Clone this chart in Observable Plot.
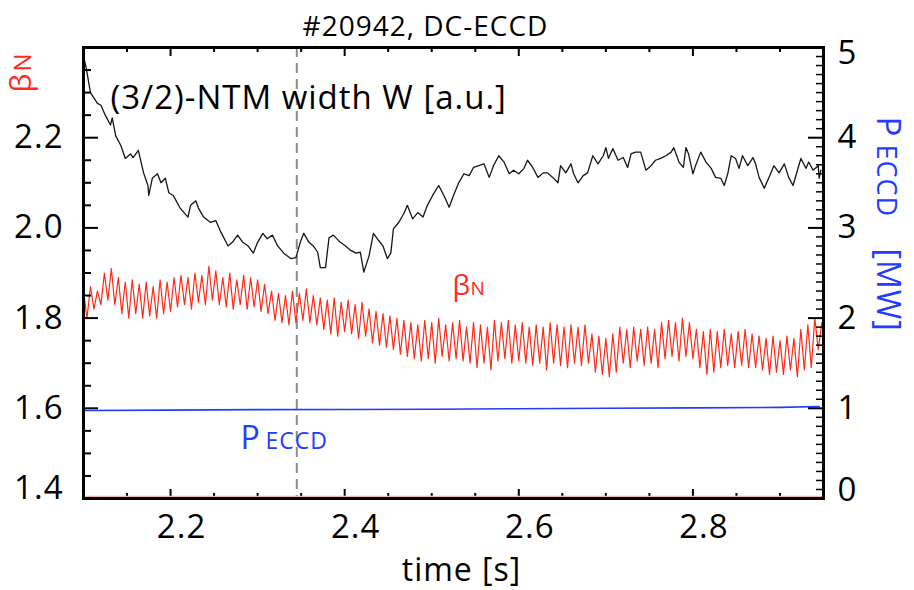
<!DOCTYPE html>
<html><head><meta charset="utf-8">
<script src="https://cdn.jsdelivr.net/npm/d3@7"></script>
<script src="https://cdn.jsdelivr.net/npm/@observablehq/plot@0.6"></script>
<style>body{margin:0;background:#fff;} svg{display:block}</style>
</head><body><div id="chart"></div>
<script>
// ---------- data ----------
const title = "#20942, DC-ECCD";
const ntmLabel = "(3/2)-NTM width W [a.u.]";
const xLabel = "time [s]";
const timeDomain = [2.1, 2.95];
const betaDomain = [1.4, 2.4];
const xTickLabels = [2.2, 2.4, 2.6, 2.8];
const leftTickLabels = [1.4, 1.6, 1.8, 2.0, 2.2];
const rightTickLabels = [0, 1, 2, 3, 4, 5];
const markerTime = 2.345;

// (3/2)-NTM island width W, a.u. (read on right-axis scale)
const wTime = [2.100,2.103,2.108,2.116,2.120,2.125,2.131,2.133,2.137,2.143,2.148,2.154,2.157,2.163,2.169,2.174,2.175,2.179,2.185,2.189,2.194,2.198,2.203,2.211,2.220,2.223,2.229,2.232,2.238,2.246,2.252,2.257,2.266,2.271,2.277,2.283,2.289,2.295,2.300,2.306,2.311,2.317,2.323,2.330,2.338,2.344,2.349,2.353,2.359,2.364,2.369,2.372,2.378,2.382,2.387,2.395,2.401,2.407,2.413,2.418,2.422,2.428,2.433,2.439,2.444,2.449,2.453,2.456,2.462,2.468,2.472,2.478,2.484,2.490,2.495,2.501,2.508,2.514,2.520,2.525,2.531,2.537,2.543,2.548,2.554,2.560,2.566,2.571,2.577,2.583,2.589,2.594,2.600,2.606,2.610,2.616,2.622,2.628,2.633,2.639,2.645,2.648,2.654,2.660,2.663,2.668,2.674,2.679,2.685,2.691,2.697,2.700,2.703,2.708,2.714,2.720,2.725,2.729,2.734,2.740,2.746,2.752,2.757,2.763,2.769,2.775,2.778,2.784,2.789,2.792,2.795,2.800,2.803,2.809,2.815,2.821,2.826,2.832,2.836,2.840,2.844,2.849,2.853,2.857,2.863,2.869,2.872,2.876,2.882,2.887,2.893,2.899,2.905,2.910,2.915,2.921,2.924,2.930,2.933,2.938,2.944,2.945,2.947];
const wValue = [4.90,4.78,4.50,4.38,4.36,4.25,4.14,4.22,4.02,3.91,3.77,3.82,3.78,3.86,3.61,3.47,3.36,3.55,3.60,3.50,3.55,3.39,3.36,3.22,3.12,3.25,3.30,3.22,3.12,3.06,3.08,2.97,2.80,2.84,2.92,2.84,2.80,2.72,2.84,2.94,2.88,2.92,2.80,2.72,2.66,2.67,2.84,2.94,2.84,2.80,2.73,2.56,2.56,2.89,2.92,2.84,2.80,2.75,2.72,2.73,2.51,2.69,2.94,2.86,2.80,2.66,2.72,2.99,3.06,3.16,3.25,3.10,3.17,3.12,3.25,3.36,3.47,3.36,3.23,3.36,3.50,3.60,3.58,3.67,3.69,3.71,3.56,3.69,3.80,3.73,3.60,3.64,3.60,3.66,3.75,3.67,3.56,3.61,3.61,3.56,3.50,3.69,3.61,3.71,3.60,3.50,3.58,3.61,3.80,3.71,3.80,3.89,3.77,3.88,3.75,3.78,3.67,3.82,3.84,3.84,3.64,3.69,3.75,3.77,3.80,3.84,3.89,3.73,3.67,3.89,3.82,3.60,3.69,3.84,3.73,3.66,3.56,3.55,3.47,3.60,3.80,3.77,3.66,3.80,3.69,3.78,3.71,3.56,3.44,3.55,3.69,3.61,3.71,3.56,3.47,3.67,3.77,3.66,3.73,3.64,3.69,3.55,3.64];

// normalised beta (left axis), sawtooth-modulated
const betaTime = [
2.100,2.104,2.108,2.112,2.116,2.120,2.124,2.128,2.132,2.136,
2.140,2.144,2.148,2.152,2.156,2.160,2.164,2.168,2.172,2.176,
2.180,2.184,2.188,2.192,2.196,2.200,2.204,2.208,2.212,2.216,
2.220,2.224,2.228,2.232,2.236,2.240,2.244,2.248,2.252,2.256,
2.260,2.264,2.268,2.272,2.276,2.280,2.284,2.288,2.292,2.296,
2.300,2.304,2.308,2.312,2.316,2.320,2.324,2.328,2.332,2.336,
2.340,2.344,2.348,2.352,2.356,2.360,2.364,2.368,2.372,2.376,
2.380,2.384,2.388,2.392,2.396,2.400,2.404,2.408,2.412,2.416,
2.420,2.424,2.428,2.432,2.436,2.440,2.444,2.448,2.452,2.456,
2.460,2.464,2.468,2.472,2.476,2.480,2.484,2.488,2.492,2.496,
2.500,2.504,2.508,2.512,2.516,2.520,2.524,2.528,2.532,2.536,
2.540,2.544,2.548,2.552,2.556,2.560,2.564,2.568,2.572,2.576,
2.580,2.584,2.588,2.592,2.596,2.600,2.604,2.608,2.612,2.616,
2.620,2.624,2.628,2.632,2.636,2.640,2.644,2.648,2.652,2.656,
2.660,2.664,2.668,2.672,2.676,2.680,2.684,2.688,2.692,2.696,
2.700,2.704,2.708,2.712,2.716,2.720,2.724,2.728,2.732,2.736,
2.740,2.744,2.748,2.752,2.756,2.760,2.764,2.768,2.772,2.776,
2.780,2.784,2.788,2.792,2.796,2.800,2.804,2.808,2.812,2.816,
2.820,2.824,2.828,2.832,2.836,2.840,2.844,2.848,2.852,2.856,
2.860,2.864,2.868,2.872,2.876,2.880,2.884,2.888,2.892,2.896,
2.900,2.904,2.908,2.912,2.916,2.920,2.924,2.928,2.932,2.936,
2.940,2.944,2.948];
const betaValue = [
1.86,1.80,1.87,1.82,1.86,1.83,1.90,1.84,1.91,1.83,
1.89,1.81,1.88,1.80,1.885,1.81,1.875,1.80,1.88,1.805,
1.87,1.80,1.885,1.81,1.88,1.815,1.89,1.825,1.895,1.83,
1.89,1.82,1.90,1.835,1.895,1.83,1.915,1.84,1.905,1.83,
1.89,1.825,1.90,1.82,1.885,1.83,1.895,1.82,1.89,1.825,
1.885,1.815,1.875,1.81,1.86,1.795,1.855,1.79,1.85,1.785,
1.86,1.79,1.855,1.795,1.865,1.79,1.85,1.785,1.845,1.775,
1.84,1.765,1.845,1.76,1.835,1.77,1.84,1.765,1.83,1.755,
1.835,1.76,1.82,1.745,1.815,1.74,1.81,1.735,1.805,1.73,
1.80,1.72,1.795,1.715,1.79,1.71,1.785,1.705,1.795,1.71,
1.79,1.70,1.80,1.715,1.785,1.705,1.79,1.71,1.795,1.705,
1.78,1.70,1.79,1.69,1.785,1.70,1.78,1.685,1.795,1.705,
1.79,1.71,1.795,1.70,1.785,1.705,1.79,1.70,1.78,1.695,
1.785,1.70,1.78,1.685,1.79,1.70,1.785,1.695,1.78,1.69,
1.785,1.70,1.78,1.695,1.785,1.70,1.765,1.68,1.76,1.675,
1.755,1.67,1.765,1.68,1.78,1.70,1.775,1.69,1.78,1.705,
1.775,1.695,1.78,1.70,1.775,1.69,1.79,1.71,1.795,1.715,
1.79,1.705,1.80,1.715,1.79,1.71,1.775,1.69,1.77,1.675,
1.775,1.68,1.77,1.69,1.775,1.695,1.765,1.69,1.77,1.695,
1.775,1.69,1.765,1.69,1.76,1.685,1.755,1.675,1.76,1.68,
1.75,1.675,1.76,1.685,1.755,1.67,1.775,1.685,1.785,1.69,
1.80,1.73,1.79];

// ECCD power, MW (right axis)
const pTime = [2.100, 2.200, 2.300, 2.400, 2.500, 2.600, 2.700, 2.800, 2.900, 2.945];
const pValue = [0.975, 0.98, 0.985, 0.987, 0.99, 0.995, 1.0, 1.005, 1.01, 1.02];

// ---------- layout / style ----------
const W = 914, H = 590, mL = 83, mR = 91, mT = 47, mB = 92;
const innerW = W - mL - mR, innerH = H - mT - mB;
const RED = "#ff2a1a", BLUE = "#1f3cff", GREY = "#8c8c8c";
const toLeft = p => betaDomain[0] + p * (betaDomain[1] - betaDomain[0]) / 5; // right axis (0..5) -> left axis

const wData = wTime.map((t, i) => ({t, v: wValue[i]})).filter(d => d.v != null);
const bData = betaTime.map((t, i) => ({t, v: betaValue[i]})).filter(d => d.v != null);
const pData = pTime.map((t, i) => ({t, v: pValue[i]}));

const xMinor = d3.range(2.15, 2.93, 0.05).map(v => +v.toFixed(2)).filter(v => !xTickLabels.includes(v));
const yMajor = [1.6, 1.8, 2.0, 2.2];
const yMinor = d3.range(1.45, 2.38, 0.05).map(v => +v.toFixed(2)).filter(v => !yMajor.includes(v));
const rMajor = [1, 2, 3, 4];
const rMinor = d3.range(1, 50).map(k => k / 10).filter(v => !Number.isInteger(+v.toFixed(3)));

const tickStyle = {stroke: "black", strokeWidth: 2};
const txt = (s, o) => Plot.text([s], {text: d => d, textAnchor: "start", lineAnchor: "bottom", ...o});

const chart = Plot.plot({
  width: W, height: H,
  marginLeft: mL, marginRight: mR, marginTop: mT, marginBottom: mB,
  style: "font-family: 'Open Sans', sans-serif; letter-spacing: 1px; background: #fff; overflow: visible; color: #000;",
  x: {domain: timeDomain, axis: null},
  y: {domain: betaDomain, axis: null},
  marks: [
    Plot.ruleX([markerTime], {stroke: GREY, strokeWidth: 2, strokeDasharray: "10,6"}),
    Plot.line(pData, {x: "t", y: d => toLeft(d.v), stroke: BLUE, strokeWidth: 1.6}),
    Plot.line(wData, {x: "t", y: d => toLeft(d.v), stroke: "#151515", strokeWidth: 1.3}),
    Plot.line(bData, {x: "t", y: "v", stroke: RED, strokeWidth: 1.2}),
    // ticks (inward)
    Plot.tickX(xTickLabels, {x: d => d, insetTop: innerH - 9, ...tickStyle}),
    Plot.tickX(xMinor, {x: d => d, insetTop: innerH - 5, ...tickStyle}),
    Plot.tickX(xTickLabels, {x: d => d, insetBottom: innerH - 9, ...tickStyle}),
    Plot.tickX(xMinor, {x: d => d, insetBottom: innerH - 5, ...tickStyle}),
    Plot.tickY(yMajor, {y: d => d, insetRight: innerW - 15, ...tickStyle}),
    Plot.tickY(yMinor, {y: d => d, insetRight: innerW - 8, ...tickStyle}),
    Plot.tickY(rMajor, {y: d => toLeft(d), insetLeft: innerW - 15, ...tickStyle}),
    Plot.tickY(rMinor, {y: d => toLeft(d), insetLeft: innerW - 7, strokeWidth: 1.5, stroke: "black"}),
    Plot.ruleY([betaDomain[0]], {stroke: "#f6b4b4", strokeWidth: 1.5, dy: -2}),
    Plot.ruleY([betaDomain[1]], {stroke: "#b06060", strokeWidth: 1, dy: -1}),
    Plot.frame({stroke: "black", strokeWidth: 3}),
    // tick labels
    Plot.axisX(xTickLabels, {anchor: "bottom", tickSize: 0, tickPadding: 16, dx: 11, fontSize: 33, tickFormat: d => d.toFixed(1), label: null}),
    Plot.axisY(leftTickLabels.filter(v => v !== 1.4), {anchor: "left", tickSize: 0, tickPadding: 20, fontSize: 33, tickFormat: d => d.toFixed(1), label: null}),
    Plot.axisY(leftTickLabels.filter(v => v === 1.4), {anchor: "left", tickSize: 0, tickPadding: 20, dy: -10, fontSize: 33, tickFormat: d => d.toFixed(1), label: null}),
    Plot.axisY(rightTickLabels.slice(1, 5).map(toLeft), {anchor: "right", tickSize: 0, tickPadding: 14, fontSize: 33, tickFormat: d => String(Math.round((d - 1.4) * 5)), label: null}),
    Plot.axisY([toLeft(rightTickLabels[0])], {anchor: "right", tickSize: 0, tickPadding: 14, dy: -8, fontSize: 33, tickFormat: () => String(rightTickLabels[0]), label: null}),
    Plot.axisY([toLeft(rightTickLabels[5])], {anchor: "right", tickSize: 0, tickPadding: 14, dy: 6, fontSize: 33, tickFormat: () => String(rightTickLabels[5]), label: null}),
    // texts
    Plot.text([title], {text: d => d, frameAnchor: "top", dx: -28, dy: -12, lineAnchor: "bottom", fontSize: 28}),
    txt(ntmLabel, {frameAnchor: "top-left", dx: 27, dy: 61, fontSize: 33}),
    txt("β", {frameAnchor: "top-left", dx: 369, dy: 247, fontSize: 28, fill: RED}),
    txt("N", {frameAnchor: "top-left", dx: 387, dy: 247, fontSize: 19, fill: RED}),
    txt("P", {frameAnchor: "top-left", dx: 157, dy: 401, fontSize: 32, fill: BLUE}),
    txt("ECCD", {frameAnchor: "top-left", dx: 182, dy: 401, fontSize: 23, fill: BLUE}),
    txt("β", {frameAnchor: "top-left", dx: -53, dy: 45, rotate: -90, fontSize: 30, fill: RED}),
    txt("N", {frameAnchor: "top-left", dx: -53, dy: 24, rotate: -90, fontSize: 24, fill: RED}),
    txt("P", {frameAnchor: "top-right", dx: 53, dy: 69, rotate: 90, fontSize: 33, fill: BLUE}),
    txt("ECCD", {frameAnchor: "top-right", dx: 53, dy: 97, rotate: 90, fontSize: 27, fill: BLUE}),
    txt("[MW]", {frameAnchor: "top-right", dx: 53, dy: 201, rotate: 90, fontSize: 32, fill: BLUE}),
    Plot.text([xLabel], {text: d => d, frameAnchor: "bottom", dx: 8, dy: 82, lineAnchor: "bottom", fontSize: 32})
  ]
});
document.getElementById("chart").appendChild(chart);
</script>
</body></html>
